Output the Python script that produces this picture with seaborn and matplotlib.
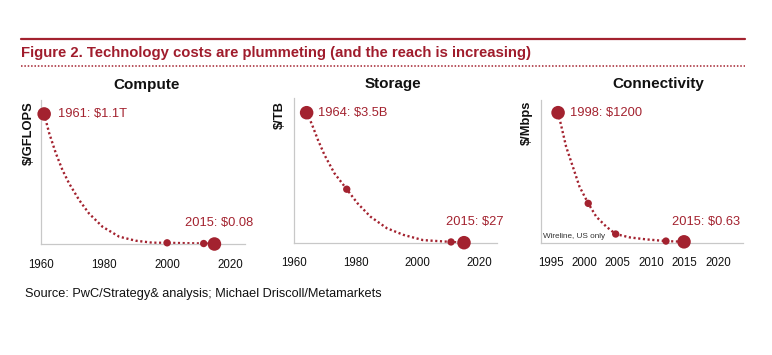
import pandas as pd
import numpy as np
import seaborn as sns
import matplotlib.pyplot as plt
from matplotlib.lines import Line2D

red = '#a3222f'
W, H = 772, 355

# Compute, $/GFLOPS (trillions)
compute_curve_year = [1961, 1962.6, 1964.7, 1966.8, 1968.9, 1972.1, 1975.2, 1979.5, 1984.8, 1990, 1995.3, 2000, 2011.6, 2015]
compute_curve_val = [1.1, 0.937, 0.768, 0.626, 0.513, 0.372, 0.259, 0.146, 0.062, 0.028, 0.011, 0.01, 0.004, 0.0]
compute_dot_year = [1961, 2000, 2011.6, 2015]
compute_dot_val = [1.1, 0.01, 0.004, 0.0]
compute_dot_size = ['big', 'small', 'small', 'big']

# Storage, $/TB (billions)
storage_curve_year = [1964, 1965.6, 1967.7, 1969.8, 1973.0, 1977.0, 1980.5, 1984.7, 1990.0, 1995.4, 2001.7, 2010.8, 2015]
storage_curve_val = [3.5, 3.21, 2.76, 2.36, 1.87, 1.44, 1.06, 0.70, 0.39, 0.21, 0.07, 0.02, 0.0]
storage_dot_year = [1964, 1977, 2010.8, 2015]
storage_dot_val = [3.5, 1.44, 0.02, 0.0]
storage_dot_size = ['big', 'small', 'small', 'big']

# Connectivity, $/Mbps
conn_curve_year = [1996.1, 1996.6, 1997.3, 1998.3, 1999.3, 2000.6, 2001.8, 2003.3, 2004.7, 2006.8, 2009.2, 2012.2, 2014.9]
conn_curve_val = [1200, 1071, 886, 702, 517, 363, 240, 148, 80, 49, 31, 15, 8]
conn_dot_year = [1996.1, 2000.6, 2004.7, 2012.2, 2014.9]
conn_dot_val = [1200, 363, 80, 15, 8]
conn_dot_size = ['big', 'small', 'small', 'small', 'big']

compute_ticks = [1960, 1980, 2000, 2020]
storage_ticks = [1960, 1980, 2000, 2020]
conn_ticks = [1995, 2000, 2005, 2010, 2015, 2020]

sns.set_theme(style='white')
plt.rcParams['font.family'] = ['Liberation Sans', 'DejaVu Sans']

fig = plt.figure(figsize=(W / 100, H / 100), dpi=100)


def px(x, y):
    return x / W, 1 - y / H


def add_ax(x0, y0, x1, y1):
    return fig.add_axes([x0 / W, 1 - y1 / H, (x1 - x0) / W, (y1 - y0) / H])


panels = [
    dict(rect=(41, 100, 245, 244), xlim=(1960, 2024.7), ylim=(0, 1.218),
         cy=compute_curve_year, cv=compute_curve_val, dy=compute_dot_year, dv=compute_dot_val, ds=compute_dot_size,
         ticks=compute_ticks, title='Compute', title_xy=(147, 85), ylabel='$/GFLOPS', ylabel_x=29,
         first='1961: $1.1T', first_dx=14, last='2015: $0.08', last_dx=5),
    dict(rect=(294.3, 98, 496.7, 242.7), xlim=(1960, 2025.6), ylim=(0, 3.896),
         cy=storage_curve_year, cv=storage_curve_val, dy=storage_dot_year, dv=storage_dot_val, ds=storage_dot_size,
         ticks=storage_ticks, title='Storage', title_xy=(393, 84), ylabel='$/TB', ylabel_x=280,
         first='1964: $3.5B', first_dx=11, last='2015: $27', last_dx=11),
    dict(rect=(541, 100, 743.3, 242.7), xlim=(1993.55, 2023.75), ylim=(0, 1317),
         cy=conn_curve_year, cv=conn_curve_val, dy=conn_dot_year, dv=conn_dot_val, ds=conn_dot_size,
         ticks=conn_ticks, title='Connectivity', title_xy=(658, 84), ylabel='$/Mbps', ylabel_x=527,
         first='1998: $1200', first_dx=12, last='2015: $0.63', last_dx=22),
]

for p in panels:
    ax = add_ax(*p['rect'])
    curve = pd.DataFrame({'year': p['cy'], 'value': p['cv']})
    dots = pd.DataFrame({'year': p['dy'], 'value': p['dv'], 'size': p['ds']})
    sns.lineplot(data=curve, x='year', y='value', ax=ax, color=red, lw=1.7,
                 linestyle=(0, (0.9, 1.1)), clip_on=False, sort=False)
    sns.scatterplot(data=dots, x='year', y='value', size='size', sizes={'big': 95, 'small': 28},
                    ax=ax, color=red, edgecolor='none', legend=False, clip_on=False, zorder=3)
    ax.set_xlim(*p['xlim'])
    ax.set_ylim(*p['ylim'])
    ax.set_xticks(p['ticks'])
    ax.set_xticklabels([str(t) for t in p['ticks']], fontsize=8.3, color='#111111')
    ax.set_yticks([])
    ax.set_xlabel('')
    ax.set_ylabel('')
    ax.tick_params(axis='x', length=0, pad=10.5)
    sns.despine(ax=ax)
    for s in ['left', 'bottom']:
        ax.spines[s].set_color('#c8c8c8')
        ax.spines[s].set_linewidth(0.9)
    ax.patch.set_alpha(0)

    ax.annotate(p['first'], (p['dy'][0], p['dv'][0]), xytext=(p['first_dx'] * 0.72, 0),
                textcoords='offset points', ha='left', va='center', fontsize=9.3, color=red)
    ax.annotate(p['last'], (p['dy'][-1], 0), xytext=(p['last_dx'] * 0.72, 21 * 0.72),
                textcoords='offset points', ha='center', va='center', fontsize=9.3, color=red)

    fig.text(*px(*p['title_xy']), p['title'], ha='center', va='center', fontsize=11,
             fontweight='bold', color='#111111')
    fig.text(*px(p['ylabel_x'], 101), p['ylabel'], rotation=90, ha='center', va='top',
             fontsize=9.3, fontweight='bold', color='#111111')

    if p['title'] == 'Connectivity':
        fig.text(*px(543, 237), 'Wireline, US only', ha='left', va='center', fontsize=5.9, color='#333333')

# header
fig.add_artist(Line2D([21 / W, 745 / W], [1 - 39.3 / H] * 2, color=red, lw=1.6))
fig.add_artist(Line2D([21 / W, 745 / W], [1 - 66 / H] * 2, color=red, lw=1.1, linestyle=(0, (1, 1.2))))
fig.text(*px(21, 52.5), 'Figure 2. Technology costs are plummeting (and the reach is increasing)',
         ha='left', va='center', fontsize=10.7, fontweight='bold', color='#a01c2c')

fig.text(*px(25, 294), 'Source: PwC/Strategy& analysis; Michael Driscoll/Metamarkets',
         ha='left', va='center', fontsize=9.2, color='#111111')

fig.savefig('out.png', dpi=100)
